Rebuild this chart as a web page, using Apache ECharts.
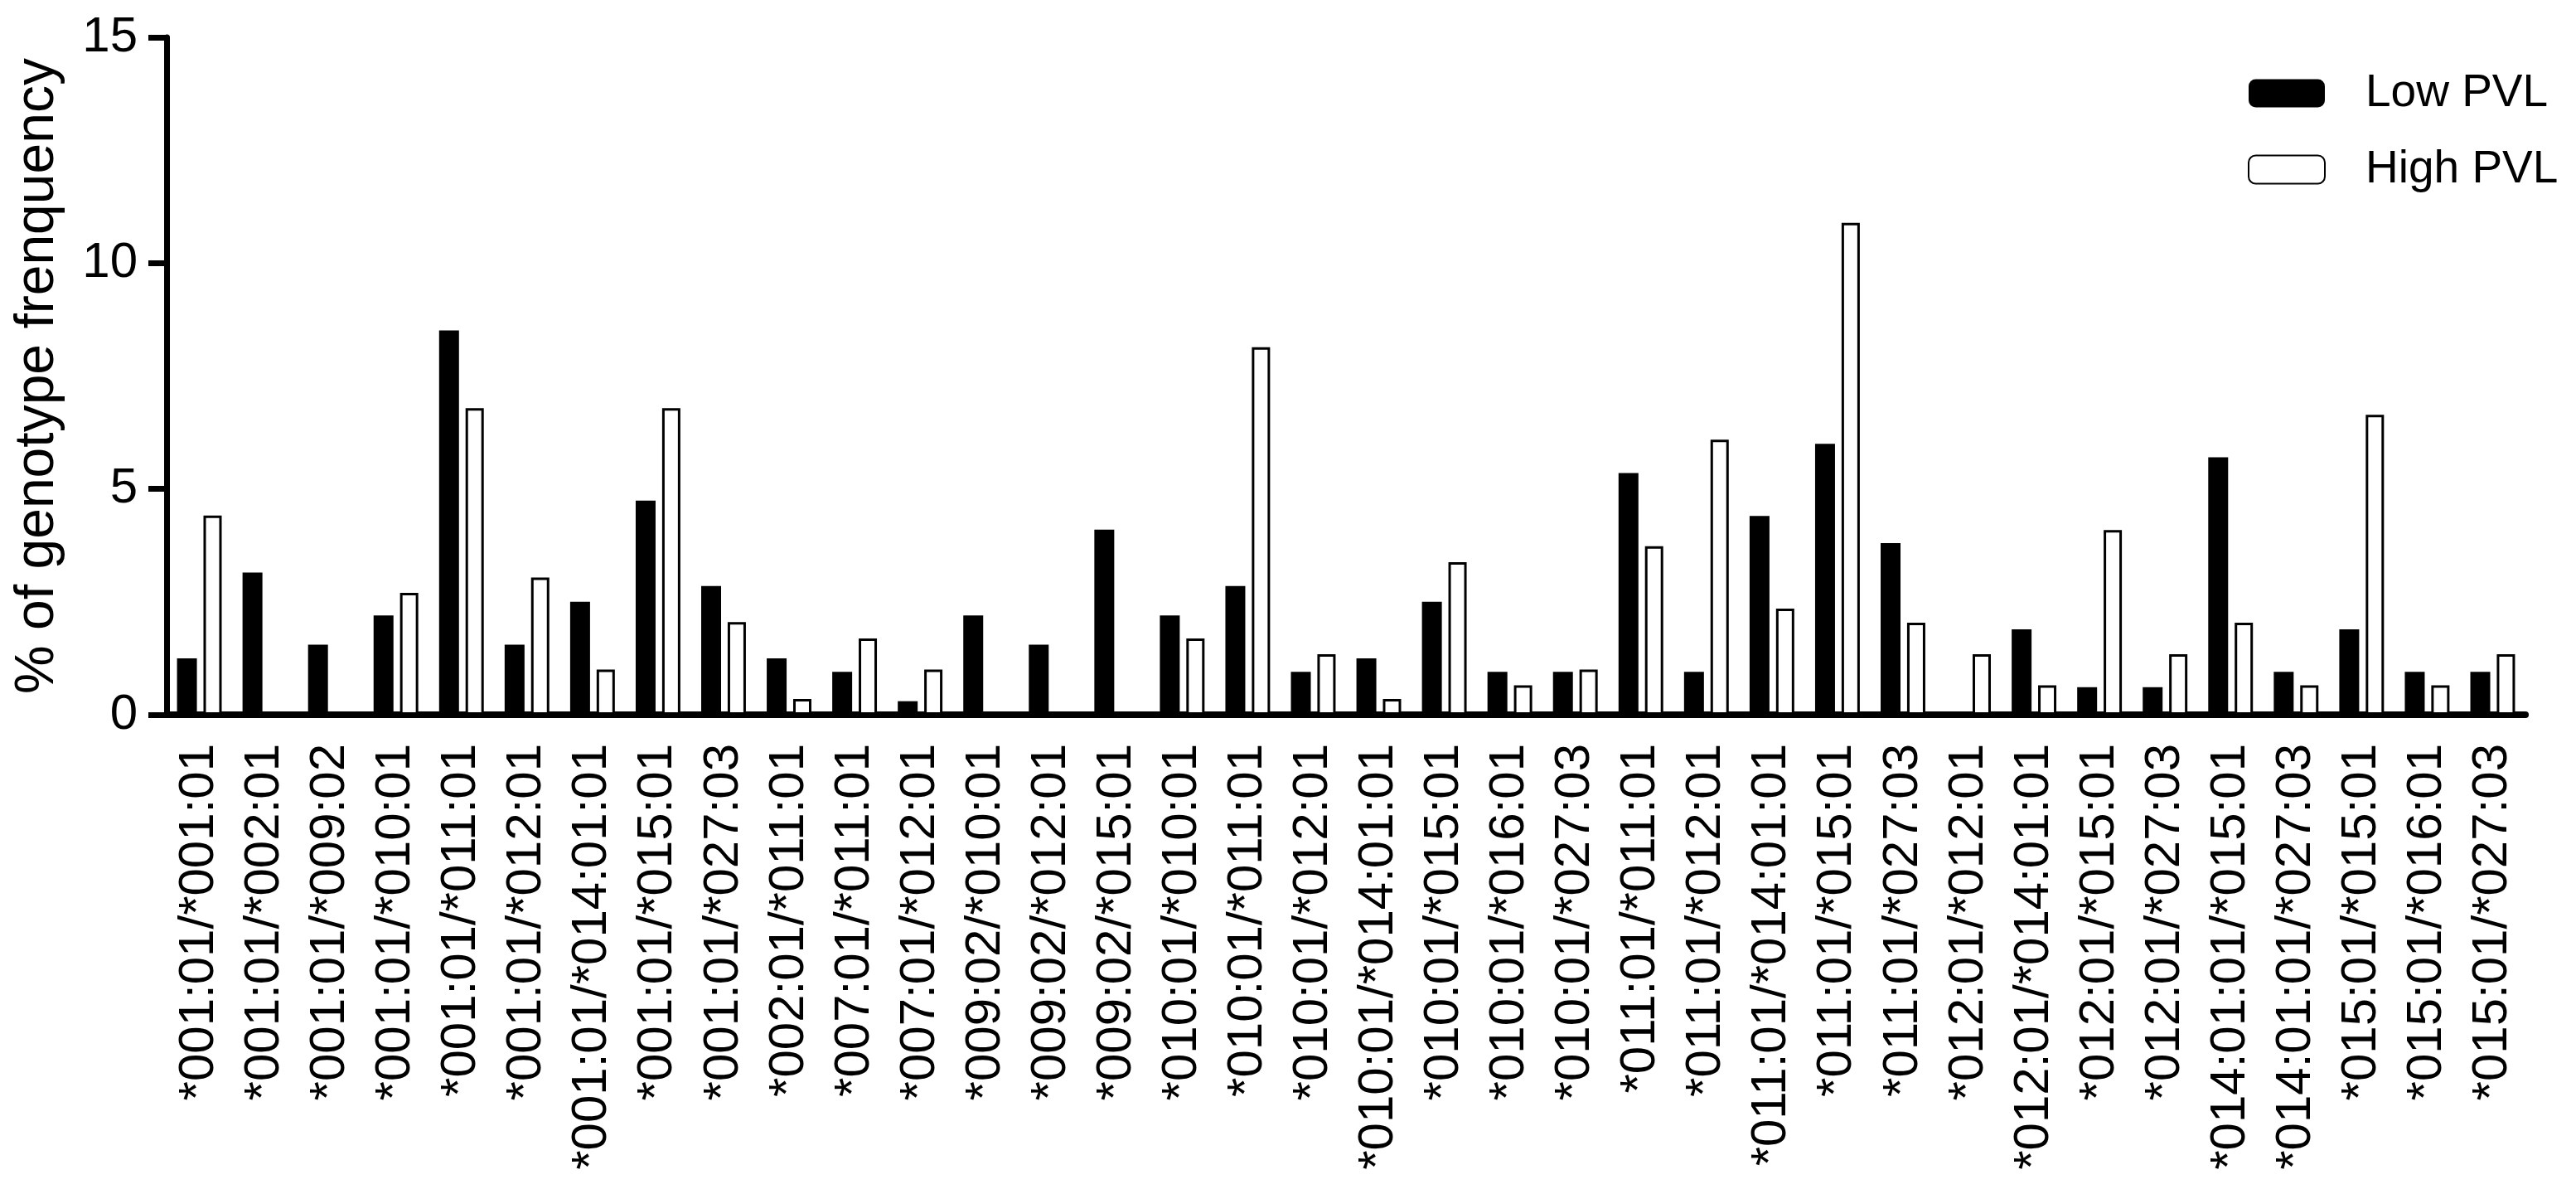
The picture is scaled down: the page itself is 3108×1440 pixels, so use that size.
<!DOCTYPE html>
<html>
<head>
<meta charset="utf-8">
<script src="https://cdn.jsdelivr.net/npm/echarts@6/dist/echarts.min.js"></script>
<style>
  html, body { margin: 0; padding: 0; background: #fff; }
  #chart { width: 3108px; height: 1440px; }
</style>
</head>
<body>
<div id="chart"></div>
<script>
const categories = [
  '*001:01/*001:01', '*001:01/*002:01', '*001:01/*009:02', '*001:01/*010:01',
  '*001:01/*011:01', '*001:01/*012:01', '*001:01/*014:01:01', '*001:01/*015:01',
  '*001:01/*027:03', '*002:01/*011:01', '*007:01/*011:01', '*007:01/*012:01',
  '*009:02/*010:01', '*009:02/*012:01', '*009:02/*015:01', '*010:01/*010:01',
  '*010:01/*011:01', '*010:01/*012:01', '*010:01/*014:01:01', '*010:01/*015:01',
  '*010:01/*016:01', '*010:01/*027:03', '*011:01/*011:01', '*011:01/*012:01',
  '*011:01/*014:01:01', '*011:01/*015:01', '*011:01/*027:03', '*012:01/*012:01',
  '*012:01/*014:01:01', '*012:01/*015:01', '*012:01/*027:03', '*014:01:01/*015:01',
  '*014:01:01/*027:03', '*015:01/*015:01', '*015:01/*016:01', '*015:01/*027:03'
];
const lowPVL = [
  1.25, 3.15, 1.55, 2.2, 8.51, 1.55, 2.5, 4.74, 2.85, 1.25, 0.95, 0.3,
  2.2, 1.55, 4.1, 2.2, 2.85, 0.95, 1.25, 2.5, 0.95, 0.95, 5.35, 0.95,
  4.4, 6.0, 3.8, 0, 1.89, 0.61, 0.61, 5.7, 0.95, 1.89, 0.95, 0.95
];
const highPVL = [
  4.41, 0, 0, 2.7, 6.79, 3.04, 1.0, 6.79, 2.05, 0.35, 1.69, 1.0,
  0, 0, 0, 1.69, 8.14, 1.34, 0.35, 3.38, 0.65, 1.0, 3.73, 6.09,
  2.35, 10.89, 2.04, 1.34, 0.65, 4.09, 1.34, 2.04, 0.65, 6.64, 0.65, 1.34
];
const yTicks = { min: 0, max: 15, interval: 5 };
const yAxisName = '% of genotype frenquency';
const seriesNames = ['Low PVL', 'High PVL'];

const FONT = '"Liberation Sans", Arial, sans-serif';
const chart = echarts.init(document.getElementById('chart'), null, { renderer: 'canvas' });
chart.setOption({
  animation: false,
  backgroundColor: '#ffffff',
  textStyle: { fontFamily: FONT, color: '#000' },
  grid: { left: 201, right: 61, top: 45, bottom: 578, containLabel: false },
  legend: {
    orient: 'vertical',
    left: 2707,
    top: 80,
    itemWidth: 92,
    itemHeight: 34,
    itemGap: 37,
    icon: 'roundRect',
    textStyle: { fontFamily: FONT, fontSize: 55, color: '#000', padding: [0, 0, 0, 44] },
    data: seriesNames
  },
  xAxis: {
    type: 'category',
    data: categories,
    axisLine: { lineStyle: { color: '#000', width: 8 } },
    axisTick: { alignWithLabel: true, length: 18, lineStyle: { color: '#000', width: 6 } },
    axisLabel: { rotate: 90, interval: 0, fontSize: 60, fontFamily: FONT, color: '#000', margin: 35 },
    splitLine: { show: false }
  },
  yAxis: {
    type: 'value',
    min: yTicks.min, max: yTicks.max, interval: yTicks.interval,
    name: yAxisName,
    nameLocation: 'middle',
    nameGap: 122,
    nameTextStyle: { fontSize: 66, fontFamily: FONT, color: '#000' },
    axisLine: { show: true, lineStyle: { color: '#000', width: 7 } },
    axisTick: { show: true, length: 22, lineStyle: { color: '#000', width: 7 } },
    axisLabel: { fontSize: 60, fontFamily: FONT, color: '#000', margin: 35 },
    splitLine: { show: false }
  },
  series: [
    {
      name: seriesNames[0],
      type: 'bar',
      data: lowPVL,
      barWidth: 24,
      barGap: '33%',
      itemStyle: { color: '#000', borderColor: '#000', borderWidth: 0 }
    },
    {
      name: seriesNames[1],
      type: 'bar',
      data: highPVL,
      barWidth: 22,
      itemStyle: { color: '#fff', borderColor: '#000', borderWidth: 3 }
    }
  ]
});
</script>
</body>
</html>
